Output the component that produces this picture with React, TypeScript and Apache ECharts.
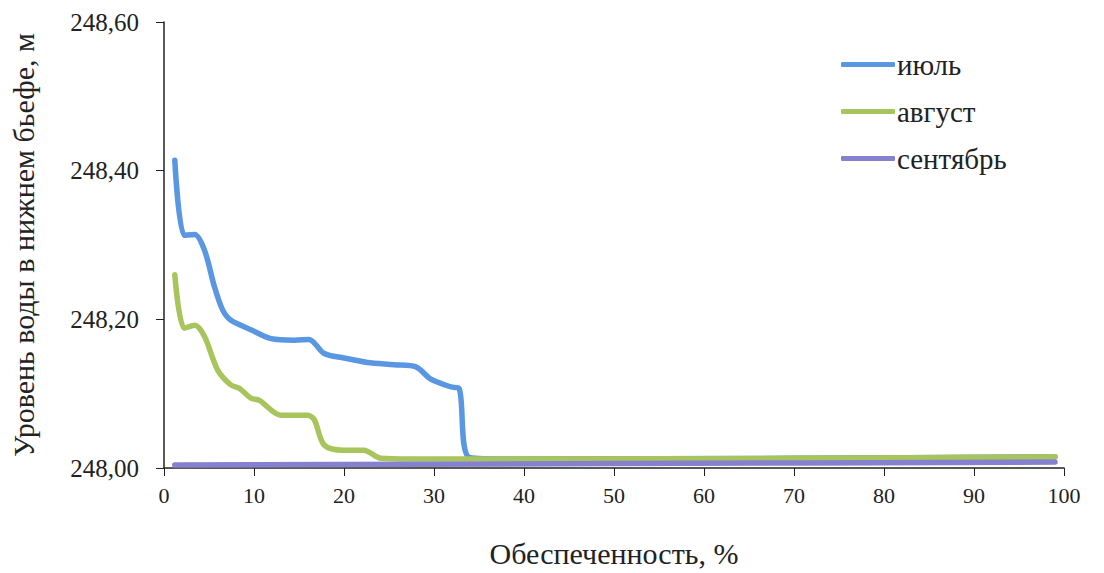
import React, { useEffect, useRef } from "react";
import * as echarts from "echarts";

const xTicks = [0, 10, 20, 30, 40, 50, 60, 70, 80, 90, 100];
const yTicks = [248.0, 248.2, 248.4, 248.6];

const julyX = [1.2, 2.25, 3.4, 4.5, 5.6, 6.5, 7.4, 9.65, 11.9, 14.5, 16.1, 17.8, 20.0, 22.6, 25.6, 28.0, 29.6, 31.9, 32.8, 34.0, 40, 70, 99];
const julyY = [248.414, 248.313, 248.314, 248.293, 248.244, 248.213, 248.199, 248.186, 248.174, 248.172, 248.173, 248.154, 248.148, 248.142, 248.139, 248.136, 248.12, 248.109, 248.107, 248.014, 248.012, 248.013, 248.015];

const augX = [1.2, 2.25, 3.4, 4.5, 5.95, 7.4, 8.4, 9.65, 10.6, 13.0, 15.95, 16.7, 17.8, 20.0, 22.2, 24.1, 27.4, 40, 70, 99];
const augY = [248.26, 248.188, 248.192, 248.177, 248.132, 248.112, 248.107, 248.094, 248.091, 248.071, 248.071, 248.065, 248.031, 248.024, 248.024, 248.013, 248.012, 248.012, 248.013, 248.015];

const sepX = [1.2, 50, 99];
const sepY = [248.004, 248.006, 248.008];

const seriesNames = ["июль", "август", "сентябрь"];
const colors = ["#5a97e2", "#a8c45c", "#8581cf"];

const pairs = (xs: number[], ys: number[]) => xs.map((x, i) => [x, ys[i]]);

export default function App() {
  const ref = useRef<HTMLDivElement>(null);
  useEffect(() => {
    const chart = echarts.init(ref.current!, undefined, { renderer: "svg" });
    const font = "'Liberation Serif'";
    const datasets = [pairs(julyX, julyY), pairs(augX, augY), pairs(sepX, sepY)];
    chart.setOption({
      animation: false,
      backgroundColor: "#ffffff",
      textStyle: { fontFamily: font },
      grid: { left: 163, right: 40, top: 22, bottom: 105 },
      legend: {
        data: seriesNames,
        orient: "vertical",
        left: 836,
        top: 45,
        itemWidth: 54,
        itemHeight: 5,
        itemGap: 18,
        icon: "roundRect",
        textStyle: { fontFamily: font, fontSize: 29, color: "#222", padding: [0, 0, 0, -3] },
      },
      xAxis: {
        type: "value",
        min: 0,
        max: 100,
        interval: 10,
        name: "Обеспеченность, %",
        nameLocation: "middle",
        nameGap: 70,
        nameTextStyle: { fontFamily: font, fontSize: 30, color: "#222" },
        axisLine: { show: true, lineStyle: { color: "#222", width: 1.5 } },
        axisTick: { show: true, length: 8, lineStyle: { color: "#222" } },
        axisLabel: { fontFamily: font, fontSize: 22, color: "#222", margin: 16 },
        splitLine: { show: false },
      },
      yAxis: {
        type: "value",
        min: 248.0,
        max: 248.6,
        interval: 0.2,
        name: "Уровень воды в нижнем бьефе, м",
        nameLocation: "middle",
        nameRotate: 90,
        nameGap: 126,
        nameTextStyle: { fontFamily: font, fontSize: 30, color: "#222" },
        axisLine: { show: true, lineStyle: { color: "#222", width: 1.5 } },
        axisTick: { show: true, length: 8, lineStyle: { color: "#222" } },
        axisLabel: {
          fontFamily: font,
          fontSize: 25,
          color: "#222",
          margin: 25,
          formatter: (v: number) => v.toFixed(2).replace(".", ","),
        },
        splitLine: { show: false },
      },
      series: seriesNames.map((name, i) => ({
        name,
        type: "line",
        data: datasets[i],
        smooth: 0.3,
        showSymbol: false,
        symbol: "none",
        lineStyle: { color: colors[i], width: 5.5, cap: "round", join: "round" },
        itemStyle: { color: colors[i] },
      })),
    });
    return () => chart.dispose();
  }, []);
  return <div ref={ref} style={{ width: 1104, height: 573, position: "absolute", left: 0, top: 0 }} />;
}
